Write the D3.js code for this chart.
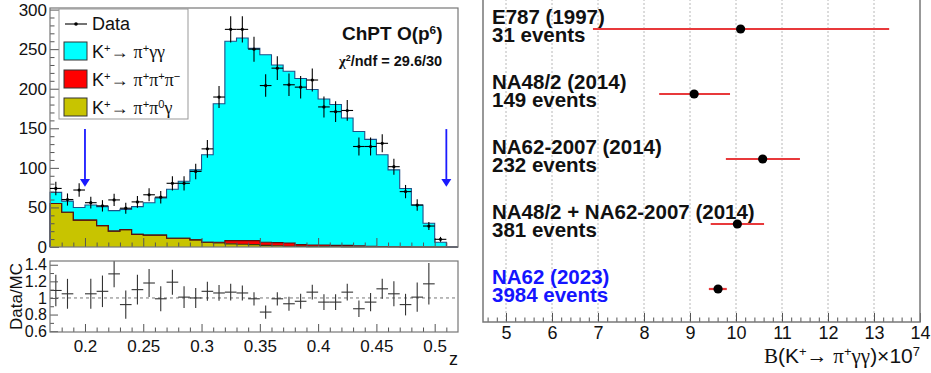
<!DOCTYPE html>
<html><head><meta charset="utf-8">
<script src="https://cdn.jsdelivr.net/npm/d3@7"></script>
<style>
body{margin:0;background:#fff}
svg{display:block}
text{font-family:"Liberation Sans",Arial,Helvetica,sans-serif;fill:#111}
</style></head>
<body>
<svg id="c" width="931" height="373"></svg>
<script>
// ---------------- data: left panel (z distribution) ----------------
const zEdges=[0.17,0.18,0.19,0.20,0.21,0.22,0.23,0.24,0.25,0.26,0.27,0.28,0.29,0.30,0.31,0.32,0.33,0.34,0.35,0.36,0.37,0.38,0.39,0.40,0.41,0.42,0.43,0.44,0.45,0.46,0.47,0.48,0.49,0.50,0.51,0.52];
const mcPiGG=[14,14,16,19,24,26,25.5,35,41,47,62,72,88.5,110.5,175,252,256,243,237,224.5,217,210,196.5,184.5,178,161,144.5,135,115.9,97.1,73.8,53,30,6,0];
const mcPi3=[0,0,0,0,0,0,0,0,0,0,0,0,0,0,1,4,4.5,5,4,4,4,2.2,2,2,1.7,1.8,1.4,1,0.6,0.4,0.2,0,0,0,0];
const mcPiPi0G=[55,44,34,34,27,20,22,16,15,15,11,11,9,6,5,4,3.5,3,2,1.5,1,0.8,0.5,0.5,0.3,0.2,0.1,0,0,0,0,0,0,0,0];
const dataCounts=[74,60,72,56,52,59.5,49,57,66,63,80.5,80.5,95.5,124,189.5,275,275,250,204,226,205,202,211,177,171,172.5,127,127,131,101.5,70,53,26.5,9.7,null];
const dataErr=[8.6,7.7,8.5,7.5,7.2,7.7,7,7.5,8.1,7.9,9,9,9.8,11.1,13.8,16.6,16.6,15.8,14.3,15,14.3,14.2,14.5,13.3,13.1,13.1,11.3,11.3,11.4,10.1,8.4,7.3,5.1,3.1,null];
const ratio=[1.09,1.05,null,1.05,1.08,1.29,0.92,1.10,1.18,0.99,1.19,1.01,1.00,1.08,1.06,1.07,1.06,0.99,0.83,0.99,0.93,0.96,1.07,0.95,0.95,1.07,0.87,0.95,1.11,1.05,0.92,1.01,1.17,null,null];
const ratioErr=[0.19,0.18,null,0.18,0.19,0.16,0.17,0.18,0.17,0.15,0.15,0.13,0.12,0.115,0.095,0.1,0.09,0.08,0.08,0.08,0.084,0.09,0.09,0.094,0.094,0.1,0.1,0.11,0.12,0.15,0.13,0.175,0.25,null,null];
const topYTicks=[0,50,100,150,200,250,300];
const zTicks=[0.2,0.25,0.3,0.35,0.4,0.45,0.5];
const zTickLabels=["0.2","0.25","0.3","0.35","0.4","0.45","0.5"];
const ratioTicks=[0.6,0.8,1,1.2,1.4];
const ratioTickLabels=["0.6","0.8","1","1.2","1.4"];
const cutZ=[0.2,0.51];

// ---------------- data: right panel (branching ratio) ----------------
const experiments=["E787 (1997)","NA48/2 (2014)","NA62-2007 (2014)","NA48/2 + NA62-2007 (2014)","NA62 (2023)"];
const eventLabels=["31 events","149 events","232 events","381 events","3984 events"];
const brCentral=[10.1,9.09,10.58,10.03,9.61];
const brLow=[6.89,8.33,9.78,9.45,9.41];
const brHigh=[13.33,9.87,11.39,10.61,9.80];
const brTicks=[5,6,7,8,9,10,11,12,13,14];

const svg=d3.select("#c");
const serif="'Liberation Serif','DejaVu Serif',serif";
function rich(t,parts){
  parts.forEach(p=>{
    const s=t.append("tspan").text(p.t);
    if(p.sup) s.attr("baseline-shift","super").attr("font-size","62%");
    if(p.g) s.style("font-family",serif);
  });
  return t;
}

// ================= LEFT TOP PANEL =================
const L={x0:50,x1:458,top:8,bot:247};
const x=d3.scaleLinear().domain([0.17,0.52]).range([L.x0,L.x1]);
const y=d3.scaleLinear().domain([0,302]).range([L.bot,L.top]);

const rows=mcPiGG.map((v,i)=>({lo:zEdges[i],hi:zEdges[i+1],pi0g:mcPiPi0G[i],pi3:mcPi3[i],pigg:v}));
const stack=d3.stack().keys(["pi0g","pi3","pigg"])(rows);
const fills={pi0g:"#c8c400",pi3:"#ff0000",pigg:"#00ffff"};
const strokes={pi0g:"#3a3a10",pi3:"#5a1010",pigg:"#1f4f86"};
const gTop=svg.append("g");
const area=d3.area().x(d=>x(d.x)).y0(d=>y(d.y0)).y1(d=>y(d.y1));
const line=d3.line().x(d=>x(d.x)).y(d=>y(d.y));
stack.forEach(layer=>{
  const pts=layer.flatMap((d,i)=>[{x:rows[i].lo,y0:d[0],y1:d[1]},{x:rows[i].hi,y0:d[0],y1:d[1]}]);
  gTop.append("path").attr("d",area(pts)).attr("fill",fills[layer.key]).attr("stroke","none");
});
stack.forEach(layer=>{
  const pts=[{x:rows[0].lo,y:0}].concat(layer.flatMap((d,i)=>[{x:rows[i].lo,y:d[1]},{x:rows[i].hi,y:d[1]}]));
  gTop.append("path").attr("d",line(pts)).attr("fill","none").attr("stroke",strokes[layer.key]).attr("stroke-width",1.1);
});

// axes top
const axTopY=d3.axisLeft(y).tickValues(topYTicks).tickSize(-9).tickPadding(3).tickFormat(d=>String(d));
const gy=svg.append("g").attr("transform",`translate(${L.x0},0)`).call(axTopY);
svg.append("g").attr("transform",`translate(${L.x0},0)`).call(d3.axisLeft(y).tickValues(d3.range(0,301,10).filter(v=>v%50)).tickSize(-4.5).tickFormat(""));
svg.append("g").attr("transform",`translate(0,${L.bot})`).call(d3.axisBottom(x).tickValues(zTicks).tickSize(-9).tickFormat(""));
svg.append("g").attr("transform",`translate(0,${L.bot})`).call(d3.axisBottom(x).tickValues(d3.range(0.18,0.52,0.01).filter(v=>Math.abs(v*20-Math.round(v*20))>0.01)).tickSize(-4.5).tickFormat(""));
svg.selectAll(".domain").remove();
svg.selectAll(".tick line").attr("stroke","#555");
gy.selectAll("text").style("font-size","17px").attr("fill","#111");
svg.append("rect").attr("x",L.x0).attr("y",L.top).attr("width",L.x1-L.x0).attr("height",L.bot-L.top).attr("fill","none").attr("stroke","#777").attr("stroke-width",1.2);

// data points
const gData=svg.append("g").attr("stroke","#000").attr("stroke-width",1.1);
dataCounts.forEach((v,i)=>{
  if(v==null) return;
  const cx=x((zEdges[i]+zEdges[i+1])/2);
  gData.append("line").attr("x1",x(zEdges[i])).attr("x2",x(zEdges[i+1])).attr("y1",y(v)).attr("y2",y(v));
  gData.append("line").attr("x1",cx).attr("x2",cx).attr("y1",y(v-dataErr[i])).attr("y2",y(v+dataErr[i]));
  gData.append("circle").attr("cx",cx).attr("cy",y(v)).attr("r",1.6).attr("fill","#000").attr("stroke","none");
});

// arrows
cutZ.forEach(z=>{
  const ax=x(z);
  svg.append("line").attr("x1",ax).attr("x2",ax).attr("y1",y(149)).attr("y2",y(84)).attr("stroke","#1a1aff").attr("stroke-width",1.8);
  svg.append("path").attr("d",`M${ax-5},${y(86)} L${ax+5},${y(86)} L${ax},${y(76)} Z`).attr("fill","#1a1aff");
});

// legend
const lg=svg.append("g");
lg.append("rect").attr("x",59).attr("y",9).attr("width",129).attr("height",110).attr("fill","#fff").attr("stroke","#999").attr("stroke-width",1);
lg.append("line").attr("x1",65).attr("x2",87).attr("y1",24).attr("y2",24).attr("stroke","#000").attr("stroke-width",1.1);
lg.append("circle").attr("cx",76).attr("cy",24).attr("r",1.8).attr("fill","#000");
lg.append("text").attr("x",92).attr("y",30).style("font-size","18px").text("Data");
const legendKeys=["pigg","pi3","pi0g"];
const legendParts=[
  [{t:"K"},{t:"+",sup:1},{t:"\u2192 "},{t:"\u03c0",g:1},{t:"+",sup:1},{t:"\u03b3\u03b3",g:1}],
  [{t:"K"},{t:"+",sup:1},{t:"\u2192 "},{t:"\u03c0",g:1},{t:"+",sup:1},{t:"\u03c0",g:1},{t:"+",sup:1},{t:"\u03c0",g:1},{t:"\u2212",sup:1}],
  [{t:"K"},{t:"+",sup:1},{t:"\u2192 "},{t:"\u03c0",g:1},{t:"+",sup:1},{t:"\u03c0",g:1},{t:"0",sup:1},{t:"\u03b3",g:1}]
];
legendKeys.forEach((k,i)=>{
  const cy=51+i*28;
  lg.append("rect").attr("x",64).attr("y",cy-9).attr("width",23).attr("height",18).attr("fill",fills[k]).attr("stroke","#333").attr("stroke-width",1);
  rich(lg.append("text").attr("x",92).attr("y",cy+6.5).style("font-size","18px"),legendParts[i]);
});

// annotations
rich(svg.append("text").attr("x",342).attr("y",40).style("font-size","19px").style("font-weight","bold"),[{t:"ChPT O(p"},{t:"6",sup:1},{t:")"}]);
rich(svg.append("text").attr("x",339).attr("y",66).style("font-size","14.5px").style("font-weight","bold"),[{t:"\u03c7",g:1},{t:"2",sup:1},{t:"/ndf = 29.6/30"}]);

// ================= LEFT RATIO PANEL =================
const R={top:261,bot:332};
const yr=d3.scaleLinear().domain([0.59,1.445]).range([R.bot,R.top]);
svg.append("clipPath").attr("id","rclip").append("rect").attr("x",L.x0).attr("y",R.top).attr("width",L.x1-L.x0).attr("height",R.bot-R.top);
svg.append("line").attr("x1",L.x0).attr("x2",L.x1).attr("y1",yr(1)).attr("y2",yr(1)).attr("stroke","#777").attr("stroke-width",1).attr("stroke-dasharray","3,3");
const gR=svg.append("g").attr("clip-path","url(#rclip)").attr("stroke","#333").attr("stroke-width",1.1);
ratio.forEach((v,i)=>{
  if(v==null) return;
  const cx=x((zEdges[i]+zEdges[i+1])/2);
  gR.append("line").attr("x1",x(zEdges[i])).attr("x2",x(zEdges[i+1])).attr("y1",yr(v)).attr("y2",yr(v));
  gR.append("line").attr("x1",cx).attr("x2",cx).attr("y1",yr(v-ratioErr[i])).attr("y2",yr(v+ratioErr[i]));
});
const gRy=svg.append("g").attr("transform",`translate(${L.x0},0)`).call(d3.axisLeft(yr).tickValues(ratioTicks).tickSize(-8).tickPadding(3).tickFormat((d,i)=>ratioTickLabels[i]));
svg.append("g").attr("transform",`translate(${L.x0},0)`).call(d3.axisLeft(yr).tickValues([0.7,0.9,1.1,1.3]).tickSize(-4).tickFormat(""));
const gRx=svg.append("g").attr("transform",`translate(0,${R.bot})`).call(d3.axisBottom(x).tickValues(zTicks).tickSize(-8).tickPadding(8).tickFormat((d,i)=>zTickLabels[i]));
svg.append("g").attr("transform",`translate(0,${R.bot})`).call(d3.axisBottom(x).tickValues(d3.range(0.18,0.52,0.01).filter(v=>Math.abs(v*20-Math.round(v*20))>0.01)).tickSize(-4.5).tickFormat(""));
svg.selectAll(".domain").remove();
svg.selectAll(".tick line").attr("stroke","#555");
gRy.selectAll("text").style("font-size","16px").attr("fill","#111");
gRx.selectAll("text").style("font-size","17px").attr("fill","#111");
svg.append("rect").attr("x",L.x0).attr("y",R.top).attr("width",L.x1-L.x0).attr("height",R.bot-R.top).attr("fill","none").attr("stroke","#777").attr("stroke-width",1.2);
svg.append("text").attr("transform",`translate(22,${(R.top+R.bot)/2}) rotate(-90)`).attr("text-anchor","middle").style("font-size","17px").text("Data/MC");
svg.append("text").attr("x",458).attr("y",365).attr("text-anchor","end").style("font-size","18px").text("z");

// ================= RIGHT PANEL =================
const P={x0:483,x1:920,top:-5,bot:322};
const xb=d3.scaleLinear().domain([4.5,14]).range([P.x0,P.x1]);
const yb=d3.scalePoint().domain(experiments).range([29,289]);
svg.append("g").selectAll("line").data(brTicks.slice(0,-1)).join("line")
  .attr("x1",d=>xb(d)).attr("x2",d=>xb(d)).attr("y1",P.top).attr("y2",P.bot)
  .attr("stroke","#b8b8b8").attr("stroke-width",1).attr("stroke-dasharray","2,2");
const gBx=svg.append("g").attr("transform",`translate(0,${P.bot})`).call(d3.axisBottom(xb).tickValues(brTicks).tickSize(-9).tickPadding(4).tickFormat(d=>String(d)));
svg.append("g").attr("transform",`translate(0,${P.bot})`).call(d3.axisBottom(xb).tickValues(d3.range(4.6,14,0.2).filter(v=>Math.abs(v-Math.round(v))>0.01)).tickSize(-4.5).tickFormat(""));
svg.selectAll(".domain").remove();
svg.selectAll(".tick line").attr("stroke","#555");
gBx.selectAll("text").style("font-size","18px").attr("fill","#111");
svg.append("rect").attr("x",P.x0).attr("y",P.top).attr("width",P.x1-P.x0).attr("height",P.bot-P.top).attr("fill","none").attr("stroke","#777").attr("stroke-width",1.5);

experiments.forEach((e,i)=>{
  const cy=yb(e);
  const col=i===experiments.length-1?"#1414ff":"#111";
  const t=svg.append("text").attr("x",492).attr("y",cy-5.5).style("font-size","20.5px").style("font-weight","bold").style("fill",col);
  t.append("tspan").attr("x",492).text(e);
  t.append("tspan").attr("x",492).attr("dy",18).text(eventLabels[i]);
});
experiments.forEach((e,i)=>{
  const cy=yb(e);
  svg.append("line").attr("x1",xb(brLow[i])).attr("x2",xb(brHigh[i])).attr("y1",cy).attr("y2",cy).attr("stroke","#e8393b").attr("stroke-width",2.2);
  svg.append("circle").attr("cx",xb(brCentral[i])).attr("cy",cy).attr("r",4.6).attr("fill","#000");
});
rich(svg.append("text").attr("x",920).attr("y",363).attr("text-anchor","end").style("font-size","21px"),
  [{t:"B",g:1},{t:"(K"},{t:"+",sup:1},{t:"\u2192 "},{t:"\u03c0",g:1},{t:"+",sup:1},{t:"\u03b3\u03b3",g:1},{t:")\u00d710"},{t:"7",sup:1}]);
</script>
</body></html>
